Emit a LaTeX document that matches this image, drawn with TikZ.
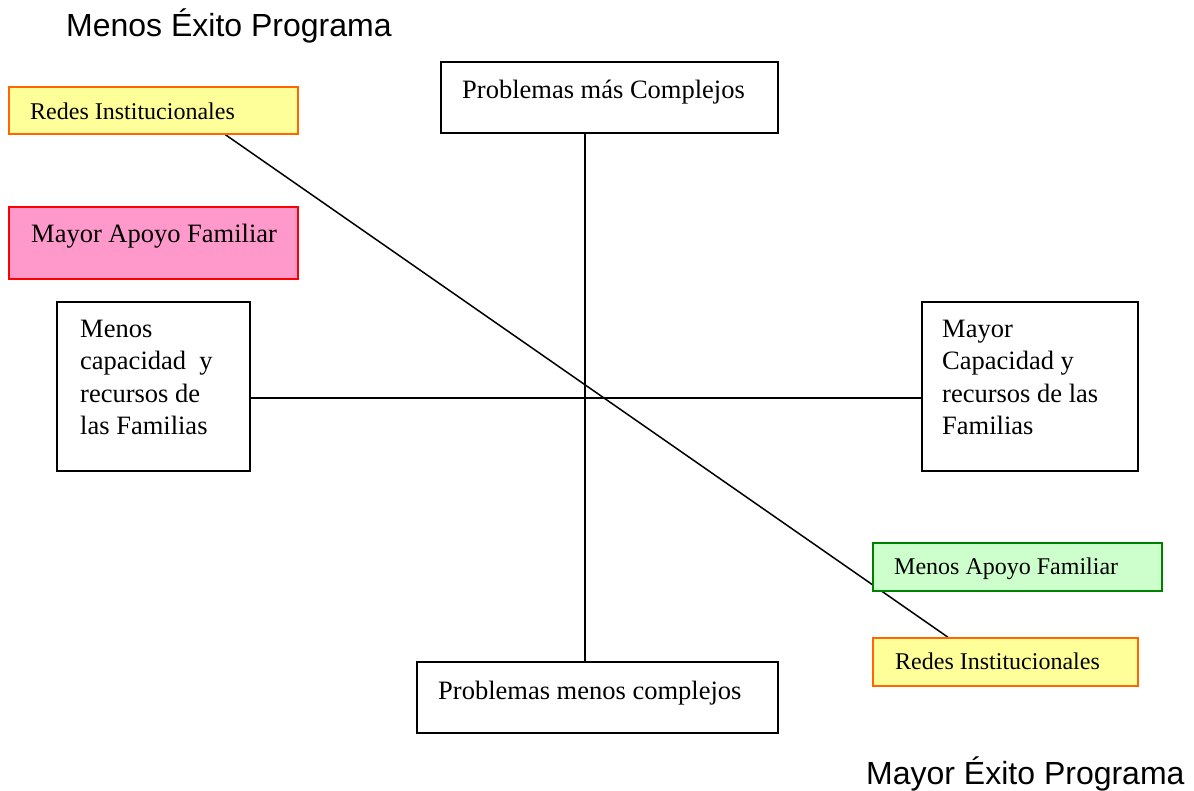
\documentclass[tikz,border=0pt]{standalone}
\usepackage{fontspec}
\setmainfont{Liberation Serif}
\newfontfamily\arialf{Liberation Sans}
\definecolor{redesfill}{HTML}{FFFF99}
\definecolor{redesdraw}{HTML}{FF6600}
\definecolor{pinkfill}{HTML}{FF99CC}
\definecolor{pinkdraw}{HTML}{FF0000}
\definecolor{greenfill}{HTML}{CCFFCC}
\definecolor{greendraw}{HTML}{008000}
\tikzset{
  boxbase/.style={rectangle, inner sep=0pt, line width=1.5pt},
  plainbox/.style={boxbase, draw=black, fill=white},
  redesbox/.style={boxbase, draw=redesdraw, fill=redesfill},
  pinkbox/.style={boxbase, draw=pinkdraw, fill=pinkfill},
  greenbox/.style={boxbase, draw=greendraw, fill=greenfill},
  bigtxt/.style={anchor=base west, inner sep=0pt, align=left, font=\fontsize{26.5}{32.5}\selectfont},
  smalltxt/.style={anchor=base west, inner sep=0pt, font=\fontsize{24}{29}\selectfont},
  headtxt/.style={anchor=base west, inner sep=0pt, font=\arialf\fontsize{32}{38}\selectfont},
  connector/.style={draw=black, line width=1.5pt}
}
\begin{document}
\begin{tikzpicture}[x=1pt,y=-1pt]
\useasboundingbox (0,0) rectangle (1194,790);
% headers
\node[headtxt] (hmenos) at (66,36) {Menos Éxito Programa};
\node[headtxt] (hmayor) at (866,784) {Mayor Éxito Programa};
% boxes (shapes only, for connector anchors)
\path node[plainbox, minimum width=337pt, minimum height=71pt] (top) at (609.5,97.5) {};
\path node[plainbox, minimum width=361pt, minimum height=71pt] (bot) at (597.5,697.5) {};
\path node[plainbox, minimum width=193pt, minimum height=169pt] (left) at (153.5,386.5) {};
\path node[plainbox, minimum width=216pt, minimum height=169pt] (right) at (1030,386.5) {};
\path node[redesbox, minimum width=289pt, minimum height=47pt] (redesA) at (153.5,110.5) {};
\path node[redesbox, minimum width=265pt, minimum height=48pt] (redesB) at (1005.5,662) {};
% connector guides
\coordinate (vx) at (585,0);
\coordinate (hy) at (0,398);
\coordinate (dA) at (225.5,0);
\coordinate (dB) at (948,0);
% connectors
\draw[connector] (vx |- top.south) -- (vx |- bot.north);
\draw[connector] (left.east |- hy) -- (right.west |- hy);
\draw[connector] (dA |- redesA.south) -- (dB |- redesB.north);
% boxes redrawn on top
\node[plainbox, minimum width=337pt, minimum height=71pt] at (top) {};
\node[plainbox, minimum width=361pt, minimum height=71pt] at (bot) {};
\node[plainbox, minimum width=193pt, minimum height=169pt] at (left) {};
\node[plainbox, minimum width=216pt, minimum height=169pt] at (right) {};
\node[redesbox, minimum width=289pt, minimum height=47pt] at (redesA) {};
\node[redesbox, minimum width=265pt, minimum height=48pt] at (redesB) {};
\node[pinkbox, minimum width=289pt, minimum height=72pt] (mayorapoyo) at (153.5,243) {};
\node[greenbox, minimum width=289pt, minimum height=48pt] (menosapoyo) at (1017.5,567) {};
% texts
\node[bigtxt] (ttop) at (462,98) {Problemas más Complejos};
\node[bigtxt] (tbot) at (438,699) {Problemas menos complejos};
\node[bigtxt] (tleft) at (80,434.5) {Menos\\capacidad\ \ y\\recursos de\\las Familias};
\node[bigtxt] (tright) at (942,434.5) {Mayor\\Capacidad y\\recursos de las\\Familias};
\node[bigtxt] (tmayor) at (31,242) {Mayor Apoyo Familiar};
\node[smalltxt] (tredesA) at (30,119) {Redes Institucionales};
\node[smalltxt] (tredesB) at (895,669) {Redes Institucionales};
\node[smalltxt] (tmenos) at (894,574) {Menos Apoyo Familiar};
\end{tikzpicture}
\end{document}
